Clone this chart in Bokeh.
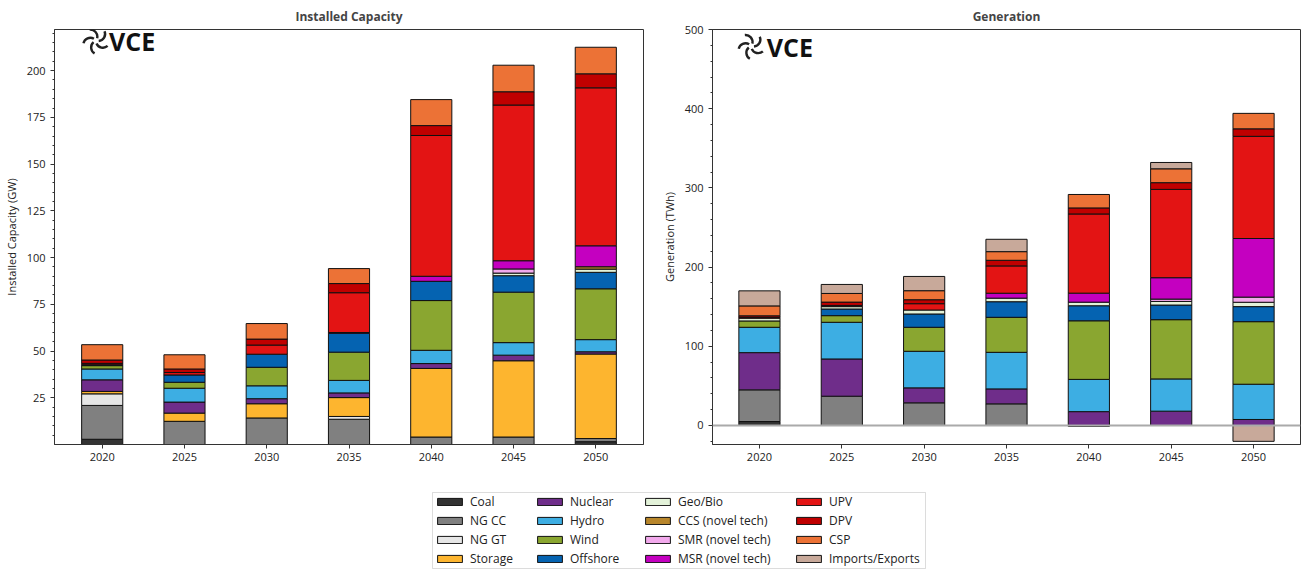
import numpy as np
from bokeh.plotting import figure
from bokeh.models import (ColumnDataSource, FixedTicker, Range1d, Span, Legend,
                          LegendItem, Label, BoxAnnotation)
from bokeh.layouts import column, row
from bokeh.embed import file_html
from bokeh.resources import INLINE

FONT = "Open Sans"

years = [2020, 2025, 2030, 2035, 2040, 2045, 2050]

techs = ["Coal", "NG CC", "NG GT", "Storage", "Nuclear", "Hydro", "Wind", "Offshore",
         "Geo/Bio", "CCS (novel tech)", "SMR (novel tech)", "MSR (novel tech)",
         "UPV", "DPV", "CSP", "Imports/Exports"]
colors = ["#333333", "#808080", "#e6e6e6", "#fdb52f", "#6f2d8a", "#3daee3", "#8aa630",
          "#0563b1", "#e3f2d9", "#b8862b", "#f2a9ec", "#c400c0",
          "#e31414", "#c00000", "#ec7236", "#c8a99a"]

# Installed capacity (GW)
cap_coal     = [2.8, 0, 0, 0, 0, 0, 1.5]
cap_ngcc     = [18.1, 12.4, 14.2, 13.5, 4.0, 4.0, 1.7]
cap_nggt     = [6.2, 0, 0, 1.5, 0, 0, 0]
cap_storage  = [1.3, 4.4, 7.6, 10.1, 36.7, 40.8, 45.2]
cap_nuclear  = [6.2, 5.9, 2.7, 2.5, 2.6, 3.0, 1.2]
cap_hydro    = [5.8, 7.4, 6.9, 6.7, 7.1, 6.7, 6.5]
cap_wind     = [1.8, 3.2, 9.9, 15.1, 26.6, 27.0, 27.2]
cap_offshore = [0.5, 3.9, 7.0, 10.1, 10.3, 8.8, 8.8]
cap_geobio   = [0, 0, 0, 0, 0, 1.4, 1.7]
cap_ccs      = [0, 0, 0, 0, 0, 0, 1.3]
cap_smr      = [0, 0, 0, 0, 0, 2.2, 0]
cap_msr      = [0, 0, 0, 0.4, 2.7, 4.4, 11.2]
cap_upv      = [0.7, 1.3, 4.9, 21.3, 75.3, 83.3, 84.5]
cap_dpv      = [1.8, 1.9, 3.2, 4.9, 5.3, 7.1, 7.5]
cap_csp      = [8.2, 7.6, 8.3, 8.0, 13.9, 14.2, 14.2]
cap_imports  = [0, 0, 0, 0, 0, 0, 0]

# Generation (TWh)
gen_coal     = [5, 0, 0, 0, 0, 0, 0]
gen_ngcc     = [40, 37, 28.6, 27.3, 0, 0, 0]
gen_nggt     = [0, 0, 0, 0, 0, 0, 0]
gen_storage  = [0, 0, 0, 0, 0, 0, 0]
gen_nuclear  = [47, 47, 18.9, 18.9, 17.5, 18.1, 7.6]
gen_hydro    = [32, 46.3, 46.2, 46.2, 40.7, 40.7, 44.5]
gen_wind     = [8, 8.4, 30.3, 44.2, 74.0, 74.8, 79.0]
gen_offshore = [0, 8.4, 16.8, 19.7, 19.0, 18.5, 19.0]
gen_geobio   = [3.5, 3.0, 5.0, 4.5, 4.5, 4.5, 5.5]
gen_ccs      = [0, 0, 0, 0, 0, 0, 0]
gen_smr      = [0, 0, 0, 0, 0, 3.0, 6.5]
gen_msr      = [0, 0, 0, 6.2, 11.4, 27.0, 74.0]
gen_upv      = [1, 1.5, 8, 34.5, 100.0, 111.5, 129.0]
gen_dpv      = [2, 4.2, 5, 7.1, 7.6, 8.5, 9.5]
gen_csp      = [12.5, 10.9, 11.4, 10.9, 17.0, 17.5, 19.5]
gen_imports  = [19, 11.4, 18, 15.6, -1.2, 8.0, -20]

cap_series = [cap_coal, cap_ngcc, cap_nggt, cap_storage, cap_nuclear, cap_hydro, cap_wind,
              cap_offshore, cap_geobio, cap_ccs, cap_smr, cap_msr, cap_upv, cap_dpv,
              cap_csp, cap_imports]
gen_series = [gen_coal, gen_ngcc, gen_nggt, gen_storage, gen_nuclear, gen_hydro, gen_wind,
              gen_offshore, gen_geobio, gen_ccs, gen_smr, gen_msr, gen_upv, gen_dpv,
              gen_csp, gen_imports]


def stacked(series):
    n = len(years)
    pos = np.zeros(n)
    neg = np.zeros(n)
    out = []
    for vals in series:
        v = np.array(vals, dtype=float)
        bottom = np.where(v >= 0, pos, neg + v)
        top = np.where(v >= 0, pos + v, neg)
        pos = np.where(v >= 0, pos + v, pos)
        neg = np.where(v < 0, neg + v, neg)
        out.append((bottom, top, v))
    return out


def style(p, ylabel):
    p.title.align = "center"
    p.title.text_font = FONT
    p.title.text_font_size = "12px"
    p.title.text_font_style = "bold"
    p.xgrid.grid_line_color = None
    p.ygrid.grid_line_color = None
    p.outline_line_color = "#333333"
    p.outline_line_width = 1
    p.xaxis.ticker = FixedTicker(ticks=years)
    p.yaxis.axis_label = ylabel
    for ax in (p.xaxis[0], p.yaxis[0]):
        ax.axis_label_text_font = FONT
        ax.axis_label_text_font_size = "11px"
        ax.axis_label_text_font_style = "normal"
        ax.axis_label_text_color = "#222222"
        ax.major_label_text_font = FONT
        ax.major_label_text_font_size = "11px"
        ax.major_label_text_color = "#222222"
        ax.axis_line_color = "#333333"
        ax.major_tick_line_color = "#333333"
        ax.minor_tick_line_color = "#333333"
        ax.major_tick_in = 0
        ax.major_tick_out = 4
        ax.minor_tick_in = 0
        ax.minor_tick_out = 2
    p.xaxis.major_label_standoff = 4


def draw_bars(p, series):
    for (bottom, top, v), col in zip(stacked(series), colors):
        keep = v != 0
        if not keep.any():
            continue
        src = ColumnDataSource(data=dict(x=np.array(years)[keep], bottom=bottom[keep],
                                         top=top[keep]))
        p.vbar(x="x", bottom="bottom", top="top", width=2.5, source=src,
               fill_color=col, line_color="#111111", line_width=1)


def logo(p, cx, cy, tx, ty, ux, uy):
    # swirl made of five curved blades; ux/uy = data units per screen pixel
    r = 7.0
    for k in range(5):
        th = 2 * np.pi * k / 5
        ox = cx + r * np.cos(th) * ux
        oy = cy + r * np.sin(th) * uy
        p.arc(x=[ox], y=[oy], radius=r, radius_units="screen",
              start_angle=th + np.pi + 0.4, end_angle=th + np.pi + 2.3,
              line_color="#222222", line_width=2.4)
    p.add_layout(Label(x=tx, y=ty, text="VCE", text_font=FONT, text_font_size="25px",
                       text_font_style="bold", text_color="#111111", text_baseline="middle"))


H = 463

p1 = figure(width=655, height=H, x_range=Range1d(2017.1, 2052.9), y_range=Range1d(0, 222),
            title="Installed Capacity", output_backend="svg", toolbar_location=None,
            min_border_top=2, min_border_right=12, min_border_left=6, min_border_bottom=4)
style(p1, "Installed Capacity (GW)")
p1.yaxis.ticker = FixedTicker(ticks=[25, 50, 75, 100, 125, 150, 175, 200],
                              minor_ticks=list(range(5, 225, 5)))
draw_bars(p1, cap_series)
logo(p1, 2019.62, 216.0, 2020.42, 216.0, 35.8 / 591, 222 / 416)

p2 = figure(width=647, height=H, x_range=Range1d(2017.15, 2052.85), y_range=Range1d(-24, 500),
            title="Generation", output_backend="svg", toolbar_location=None,
            min_border_top=2, min_border_right=2, min_border_left=57, min_border_bottom=4)
style(p2, "Generation (TWh)")
p2.yaxis.ticker = FixedTicker(ticks=[0, 100, 200, 300, 400, 500],
                              minor_ticks=list(range(-20, 520, 20)))
p2.add_layout(Span(location=0, dimension="width", line_color="#aaaaaa", line_width=2))
draw_bars(p2, gen_series)
logo(p2, 2019.5, 479, 2020.45, 478, 35.7 / 588, 524 / 416)

# Legend strip (screen-pixel ranges)
LW, LH = 1302, 107
pl = figure(width=LW, height=LH, x_range=Range1d(0, LW), y_range=Range1d(0, LH),
            output_backend="svg", toolbar_location=None, min_border=0)
pl.axis.visible = False
pl.xgrid.grid_line_color = None
pl.ygrid.grid_line_color = None
pl.outline_line_color = None
pl.add_layout(BoxAnnotation(left=432, right=925, bottom=2, top=78,
                            fill_color=None, fill_alpha=0, line_color="#8c8c8c", line_width=1))
col_x = [434, 534, 642, 793]
for c in range(4):
    items = []
    for name, col in zip(techs[4 * c:4 * c + 4], colors[4 * c:4 * c + 4]):
        r = pl.vbar(x=[-5000], bottom=[-5000], top=[-4000], width=1, fill_color=col,
                    line_color="#111111", line_width=1)
        items.append(LegendItem(label=name, renderers=[r]))
    leg = Legend(items=items, orientation="vertical", location=(col_x[c], 3),
                 label_text_font=FONT, label_text_font_size="12px",
                 label_text_color="#222222", glyph_width=31, glyph_height=9,
                 label_standoff=5, spacing=2, padding=0, label_height=15,
                 border_line_color=None, background_fill_alpha=0, margin=0)
    pl.add_layout(leg, "center")

layout = column(row(p1, p2), pl, spacing=0)
open("out.html", "w").write(file_html(layout, INLINE))
